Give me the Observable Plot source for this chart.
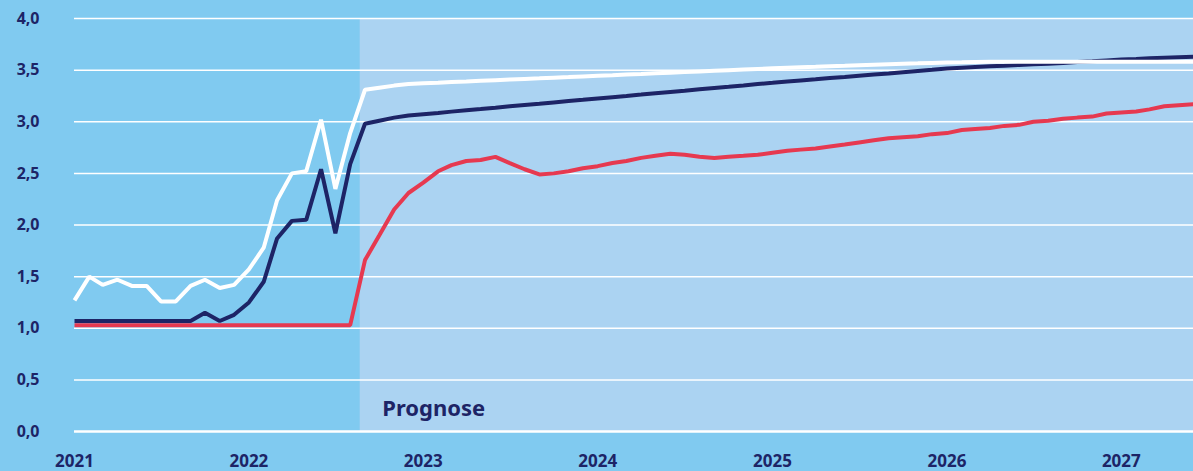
<!DOCTYPE html>
<html>
<head>
<meta charset="utf-8">
<script src="https://cdn.jsdelivr.net/npm/d3@7"></script>
<script src="https://cdn.jsdelivr.net/npm/@observablehq/plot@0.6"></script>
<style>
  html, body { margin: 0; padding: 0; background: #80caf0; }
  #chart svg { display: block; }
  #chart svg text { font-weight: bold; }
</style>
</head>
<body>
<div id="chart"></div>
<script>
// Monthly observations Jan 2021 – Jun 2027
const months = d3.utcMonth.range(new Date(Date.UTC(2021, 0, 1)), new Date(Date.UTC(2027, 6, 1)));

const seriesWhite = [
  1.27,1.50,1.42,1.47,1.41,1.41,1.26,1.26,1.41,1.47,
  1.39,1.42,1.57,1.78,2.24,2.50,2.52,3.02,2.35,2.89,
  3.310,3.330,3.350,3.365,3.372,3.378,3.385,3.391,3.397,3.403,
  3.409,3.415,3.421,3.427,3.433,3.439,3.445,3.451,3.457,3.463,
  3.469,3.475,3.481,3.487,3.493,3.499,3.505,3.511,3.517,3.523,
  3.528,3.533,3.538,3.543,3.548,3.553,3.558,3.562,3.566,3.570,
  3.573,3.576,3.579,3.580,3.580,3.580,3.580,3.580,3.580,3.580,
  3.580,3.580,3.580,3.580,3.580,3.580,3.580,3.580
];
const seriesNavy = [
  1.07,1.07,1.07,1.07,1.07,1.07,1.07,1.07,1.07,1.15,
  1.07,1.13,1.25,1.45,1.87,2.04,2.05,2.54,1.92,2.59,
  2.980,3.010,3.040,3.060,3.073,3.085,3.098,3.111,3.123,3.136,
  3.149,3.162,3.174,3.187,3.200,3.212,3.225,3.238,3.250,3.263,
  3.276,3.289,3.301,3.314,3.327,3.339,3.352,3.365,3.377,3.390,
  3.400,3.411,3.423,3.434,3.446,3.457,3.468,3.480,3.492,3.503,
  3.515,3.523,3.530,3.537,3.543,3.550,3.556,3.562,3.570,3.578,
  3.586,3.594,3.602,3.608,3.614,3.620,3.625,3.630
];
const seriesRed = [
  1.03,1.03,1.03,1.03,1.03,1.03,1.03,1.03,1.03,1.03,
  1.03,1.03,1.03,1.03,1.03,1.03,1.03,1.03,1.03,1.03,
  1.66,1.90,2.15,2.31,2.41,2.52,2.58,2.62,2.63,2.66,
  2.60,2.54,2.49,2.50,2.52,2.55,2.57,2.60,2.62,2.65,
  2.67,2.69,2.68,2.66,2.65,2.66,2.67,2.68,2.70,2.72,
  2.73,2.74,2.76,2.78,2.80,2.82,2.84,2.85,2.86,2.88,
  2.89,2.92,2.93,2.94,2.96,2.97,3.00,3.01,3.03,3.04,
  3.05,3.08,3.09,3.10,3.12,3.15,3.16,3.17
];

const yTicks = [0, 0.5, 1, 1.5, 2, 2.5, 3, 3.5, 4];
const yearTicks = ["2021","2022","2023","2024","2025","2026","2027"];
const forecastPeriod = [{start: "2022-08-22", end: "2027-06-01", label: "Prognose"}];

const toRows = (vals) => vals.map((v, i) => ({date: months[i], value: v}));
const xDomain = [new Date(Date.UTC(2021, 0, 1)), new Date(Date.UTC(2027, 5, 1))];

const navy = "#1d2466";

const chart = Plot.plot({
  width: 1193,
  height: 471,
  marginLeft: 74,
  marginRight: 0,
  marginTop: 18,
  marginBottom: 40,
  style: {background: "#80caf0", fontFamily: "'Noto Sans', sans-serif", color: navy, overflow: "visible"},
  x: {type: "utc", domain: xDomain},
  y: {domain: [0, 4]},
  marks: [
    Plot.rect(forecastPeriod, {x1: d => new Date(d.start), x2: d => new Date(d.end), y1: 0, y2: 4, fill: "#abd3f2"}),
    Plot.ruleY(yTicks, {stroke: "white", strokeWidth: d => d === 0 ? 2.5 : 1.5}),
    Plot.axisY({ticks: yTicks, tickFormat: d => d.toFixed(1).replace(".", ","), tickSize: 0, tickPadding: 35, fontSize: 16, label: null, fill: navy}),
    Plot.axisX({ticks: yearTicks.map(y => new Date(y + "-01-01")), tickFormat: d => String(d.getUTCFullYear()), tickSize: 0, tickPadding: 23, fontSize: 17, label: null, fill: navy}),
    Plot.lineY(toRows(seriesRed), {x: "date", y: "value", stroke: "#e63950", strokeWidth: 4, strokeLinejoin: "miter", strokeLinecap: "butt"}),
    Plot.lineY(toRows(seriesNavy), {x: "date", y: "value", stroke: navy, strokeWidth: 4, strokeLinejoin: "miter", strokeLinecap: "butt"}),
    Plot.lineY(toRows(seriesWhite), {x: "date", y: "value", stroke: "white", strokeWidth: 4, strokeLinejoin: "miter", strokeLinecap: "butt"}),
    Plot.text(forecastPeriod, {x: d => new Date(d.start), y: 0, text: "label", textAnchor: "start", dx: 22, dy: -23, fontSize: 22, fill: navy})
  ]
});
document.getElementById("chart").appendChild(chart);
</script>
</body>
</html>
